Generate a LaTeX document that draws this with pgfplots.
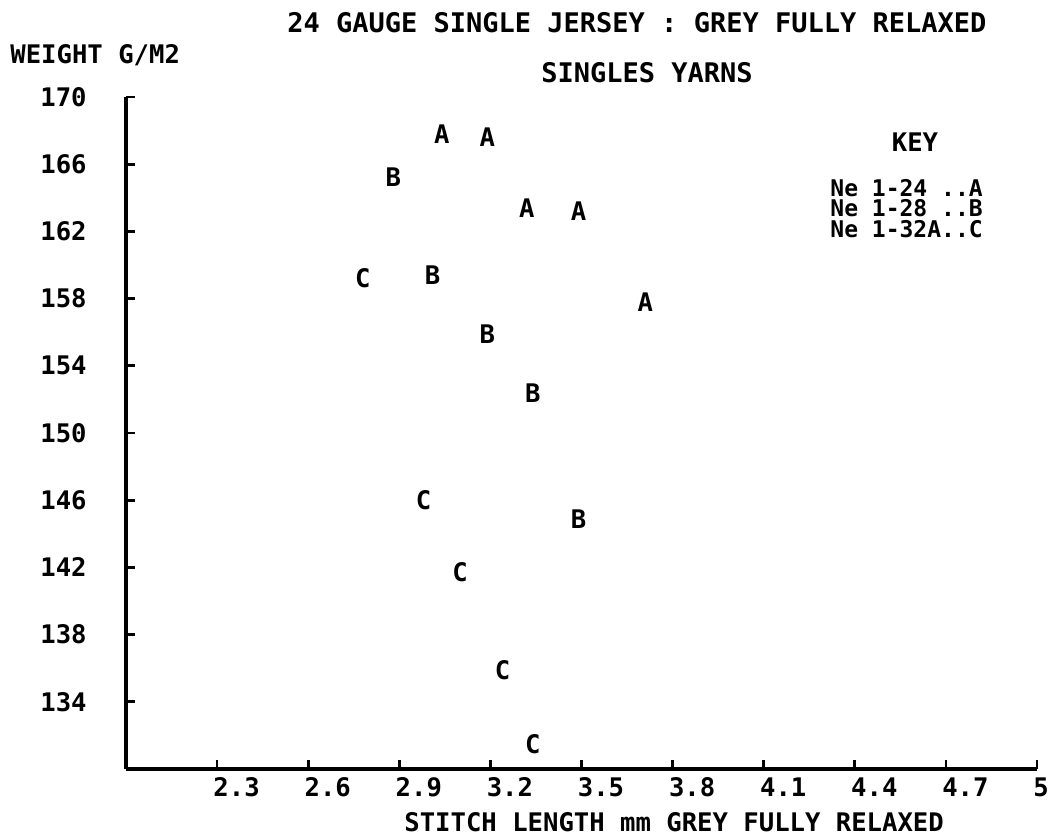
\documentclass[border=0pt]{standalone}
\usepackage{fontspec}
\usepackage{pgfplots}
\pgfplotsset{compat=1.18}
\newfontfamily\plotfont{DejaVu Sans Mono}
\newcommand{\pf}{\plotfont\bfseries\fontsize{12.8}{14}\selectfont}
\newcommand{\pfk}{\plotfont\bfseries\fontsize{11.5}{13}\selectfont}
\newcommand{\pft}{\plotfont\bfseries\fontsize{13.5}{15}\selectfont}

\begin{document}
\begin{tikzpicture}
\begin{axis}[
  at={(0pt,0pt)}, anchor=south west,
  scale only axis, width=455.5pt, height=336pt,
  xmin=2, xmax=5, ymin=130, ymax=170,
  axis x line=bottom, axis y line=left,
  axis line style={-, line width=1.6pt},
  tick style={line width=1.4pt, black},
  major tick length=4.5pt,
  tick align=inside,
  xtick={2.3,2.6,2.9,3.2,3.5,3.8,4.1,4.4,4.7,5},
  xticklabels={2.3,2.6,2.9,3.2,3.5,3.8,4.1,4.4,4.7,5},
  ytick={134,138,142,146,150,154,158,162,166,170},
  yticklabels={134,138,142,146,150,154,158,162,166,170},
  xticklabel style={font=\pf, anchor=north west, inner sep=0pt, xshift=-2pt, yshift=-4pt},
  yticklabel style={font=\pf, anchor=east, inner sep=0pt, xshift=-19.5pt},
  clip=false,
]
\addplot[only marks, mark=text, text mark=A, text mark as node=true,
  text mark style={font=\pf, inner sep=0pt}] coordinates {
  (3.04,167.8) (3.19,167.6) (3.32,163.4) (3.49,163.2) (3.71,157.8)};
\addplot[only marks, mark=text, text mark=B, text mark as node=true,
  text mark style={font=\pf, inner sep=0pt}] coordinates {
  (2.88,165.2) (3.01,159.4) (3.19,155.9) (3.34,152.4) (3.49,144.9)};
\addplot[only marks, mark=text, text mark=C, text mark as node=true,
  text mark style={font=\pf, inner sep=0pt}] coordinates {
  (2.78,159.2) (2.98,146.0) (3.10,141.7) (3.24,135.9) (3.34,131.5)};
\end{axis}
\node[anchor=west, font=\pft, inner sep=0pt] at (80.5pt,373pt) {24 GAUGE SINGLE JERSEY : GREY FULLY RELAXED};
\node[anchor=west, font=\pft, inner sep=0pt] at (207.5pt,348pt) {SINGLES YARNS};
\node[anchor=west, font=\pf, inner sep=0pt] at (-58pt,357pt) {WEIGHT G/M2};
\node[anchor=center, font=\pf, inner sep=0pt] at (394.5pt,313.5pt) {KEY};
\node[anchor=west, font=\pfk, inner sep=0pt] at (352pt,290.5pt) {Ne 1-24 ..A};
\node[anchor=west, font=\pfk, inner sep=0pt] at (352pt,280.3pt) {Ne 1-28 ..B};
\node[anchor=west, font=\pfk, inner sep=0pt] at (352pt,270.1pt) {Ne 1-32A..C};
\node[anchor=west, font=\pf, inner sep=0pt] at (139pt,-26.5pt) {STITCH LENGTH mm GREY FULLY RELAXED};
\pgfresetboundingbox
\path (-63pt,-34.5pt) rectangle (464.5pt,384.5pt);
\end{tikzpicture}
\end{document}
